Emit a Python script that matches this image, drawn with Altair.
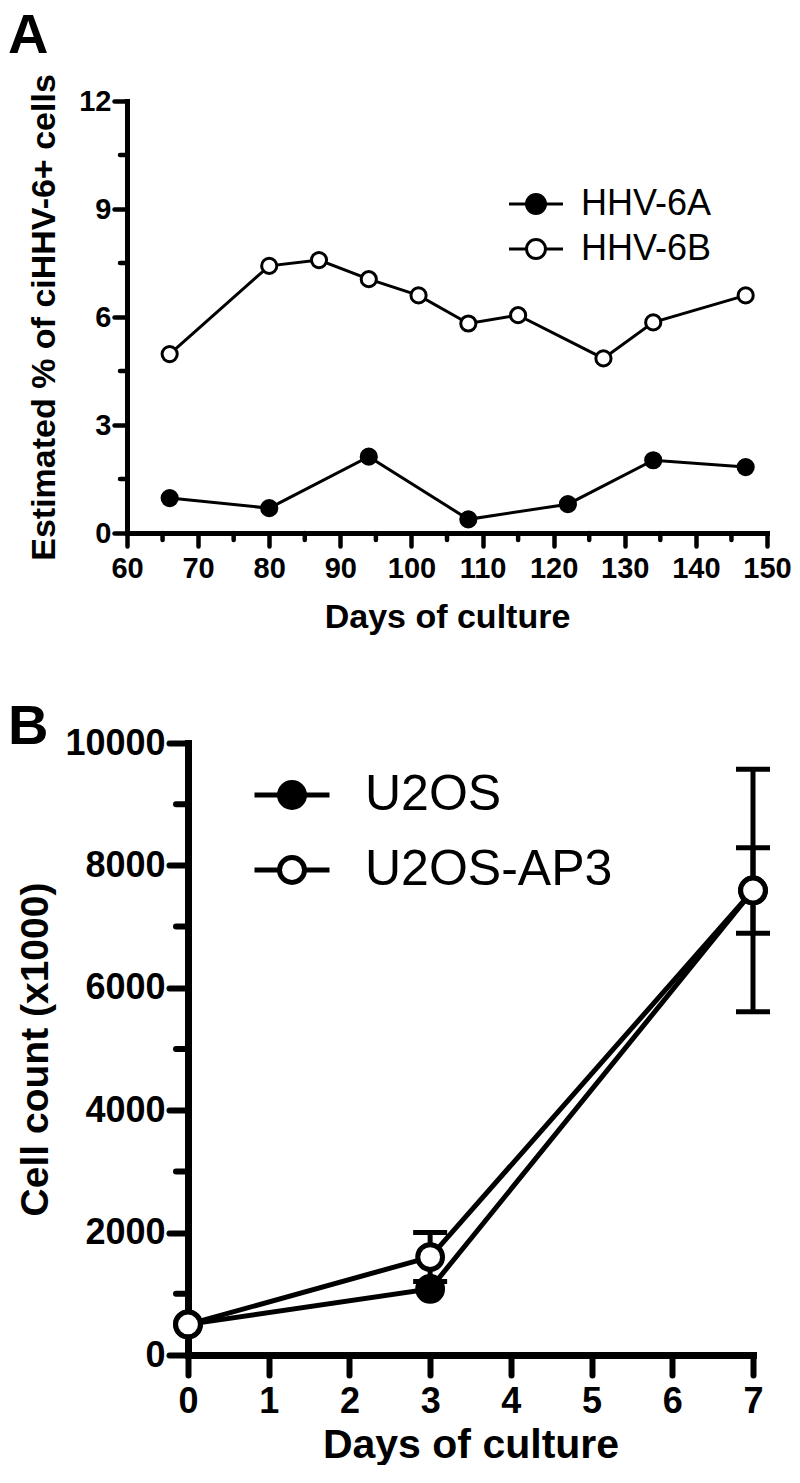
import altair as alt
import pandas as pd

FONT = "Liberation Sans"

# ---------------- Panel A data ----------------
a_series = ["HHV-6A", "HHV-6B"]
a_days_6a = [66, 80, 94, 108, 122, 134, 147]
a_vals_6a = [0.97, 0.69, 2.12, 0.38, 0.80, 2.02, 1.83]
a_days_6b = [66, 80, 87, 94, 101, 108, 115, 127, 134, 147]
a_vals_6b = [4.97, 7.42, 7.58, 7.05, 6.60, 5.82, 6.05, 4.85, 5.85, 6.60]
a_major_x = [60, 70, 80, 90, 100, 110, 120, 130, 140, 150]
a_minor_x = [65, 75, 85, 95, 105, 115, 125, 135, 145]
a_major_y = [0, 3, 6, 9, 12]
a_minor_y = [1.5, 4.5, 7.5, 10.5]

# ---------------- Panel B data ----------------
b_series = ["U2OS", "U2OS-AP3"]
b_days = [0, 3, 7]
b_u2os = [500, 1080, 7590]
b_u2os_sd = [0, 0, 700]
b_ap3 = [500, 1600, 7590]
b_ap3_sd = [0, 400, 1980]
b_major_x = [0, 1, 2, 3, 4, 5, 6, 7]
b_major_y = [0, 2000, 4000, 6000, 8000, 10000]
b_minor_y = [1000, 3000, 5000, 7000, 9000]

# ---------------- tables ----------------
dfA = pd.DataFrame({
    "day": a_days_6a + a_days_6b,
    "val": a_vals_6a + a_vals_6b,
    "series": [a_series[0]] * len(a_days_6a) + [a_series[1]] * len(a_days_6b),
})
dfB = pd.DataFrame({
    "day": b_days + b_days,
    "val": b_u2os + b_ap3,
    "sd": b_u2os_sd + b_ap3_sd,
    "series": [b_series[0]] * len(b_days) + [b_series[1]] * len(b_days),
})
dfB["lo"] = dfB["val"] - dfB["sd"]
dfB["hi"] = dfB["val"] + dfB["sd"]
dfBerr = dfB[dfB["sd"] > 0]
dfBcaps = pd.DataFrame({
    "day": list(dfBerr["day"]) * 2,
    "val": list(dfBerr["lo"]) + list(dfBerr["hi"]),
})


def make_axis(values, tick_size, tick_w, dom_w, lab_size, lab_pad, title, title_size, title_pad):
    return alt.Axis(
        values=values, format="d", tickSize=tick_size, tickWidth=tick_w, tickColor="black",
        tickCap="round", domainWidth=dom_w, domainColor="black", domainCap="square",
        labelFont=FONT, labelFontSize=lab_size, labelFontWeight="bold", labelColor="black",
        labelPadding=lab_pad, labelFlush=False, labelOverlap=False,
        title=title, titleFont=FONT, titleFontSize=title_size, titleFontWeight="bold",
        titleColor="black", titlePadding=title_pad, grid=False,
    )


# ---------------- Panel A ----------------
WA, HA = 640, 432
axXA = make_axis(a_major_x, 13, 4.5, 5, 29, 8, "Days of culture", 34, 17)
axYA = make_axis(a_major_y, 13, 4.5, 5, 29, 3, "Estimated % of ciHHV-6+ cells", 34, 17)
scXA = alt.Scale(domain=[60, 150], nice=False, zero=False)
scYA = alt.Scale(domain=[0, 12], nice=False)
xA = alt.X("day:Q", scale=scXA, axis=axXA)
yA = alt.Y("val:Q", scale=scYA, axis=axYA)

pathA = "M-2.84,0H-1A1,1,0,1,1,1,0A1,1,0,1,1,-1,0M1,0H2.84"
legA = alt.Legend(title=None, orient="none", legendX=391, legendY=85, symbolType=pathA,
                  symbolSize=361, symbolStrokeColor="black", symbolStrokeWidth=3, symbolOpacity=1,
                  labelFont=FONT, labelFontSize=36, labelFontWeight="normal", labelColor="black",
                  labelOffset=27, labelLimit=400, rowPadding=9, padding=0)

baseA = alt.Chart(dfA)
linesA = baseA.mark_line(color="black", strokeWidth=3).encode(x=xA, y=yA, detail="series:N")
pointsA = baseA.mark_point(filled=True, shape="circle", size=230, stroke="black",
                           strokeWidth=3, opacity=1).encode(
    x=xA, y=yA,
    fill=alt.Fill("series:N", scale=alt.Scale(domain=a_series, range=["black", "white"]), legend=legA),
)
minorXA = alt.Chart(pd.DataFrame({"day": a_minor_x})).mark_rule(
    color="black", strokeWidth=4.5, strokeCap="round").encode(
    x=xA, y=alt.value(HA), y2=alt.value(HA + 7))
minorYA = alt.Chart(pd.DataFrame({"val": a_minor_y})).mark_rule(
    color="black", strokeWidth=4.5, strokeCap="round").encode(
    y=yA, x=alt.value(0), x2=alt.value(-7))
letterA = alt.Chart(pd.DataFrame({"t": ["A"]})).mark_text(
    align="left", baseline="alphabetic", font=FONT, fontSize=56, fontWeight="bold", color="black").encode(
    text="t:N", x=alt.value(-119), y=alt.value(-48))

chartA = alt.layer(linesA, minorXA, minorYA, pointsA, letterA).properties(width=WA, height=HA)

# ---------------- Panel B ----------------
WB, HB = 565, 612
axXB = make_axis(b_major_x, 20, 6, 7, 36, 9, "Days of culture", 41, 6)
axYB = make_axis(b_major_y, 19, 6, 7, 36, 4, "Cell count (x1000)", 39, 9)
scXB = alt.Scale(domain=[0, 7], nice=False, zero=False)
scYB = alt.Scale(domain=[0, 10000], nice=False)
xB = alt.X("day:Q", scale=scXB, axis=axXB)
yB = alt.Y("val:Q", scale=scYB, axis=axYB)

pathB = "M-3,0H-1A1,1,0,1,1,1,0A1,1,0,1,1,-1,0M1,0H3"
legB = alt.Legend(title=None, orient="none", legendX=140, legendY=27, symbolType=pathB,
                  symbolSize=625, symbolStrokeColor="black", symbolStrokeWidth=5, symbolOpacity=1,
                  labelFont=FONT, labelFontSize=50, labelFontWeight="normal", labelColor="black",
                  labelOffset=48, labelLimit=500, rowPadding=25, padding=0)

baseB = alt.Chart(dfB)
linesB = baseB.mark_line(color="black", strokeWidth=5).encode(x=xB, y=yB, detail="series:N")
errB = alt.Chart(dfBerr).mark_rule(color="black", strokeWidth=5).encode(
    x=xB, y=alt.Y("lo:Q", scale=scYB, axis=axYB), y2="hi:Q")
capsB = alt.Chart(dfBcaps).mark_tick(color="black", orient="horizontal", size=34, thickness=5,
                                     opacity=1).encode(x=xB, y=yB)
pointsB = baseB.mark_point(filled=True, shape="circle", size=615, stroke="black",
                           strokeWidth=5, opacity=1).encode(
    x=xB, y=yB,
    fill=alt.Fill("series:N", scale=alt.Scale(domain=b_series, range=["black", "white"]), legend=legB),
)
minorYB = alt.Chart(pd.DataFrame({"val": b_minor_y})).mark_rule(
    color="black", strokeWidth=6, strokeCap="round").encode(
    y=yB, x=alt.value(0), x2=alt.value(-12))
letterB = alt.Chart(pd.DataFrame({"t": ["B"]})).mark_text(
    align="left", baseline="alphabetic", font=FONT, fontSize=56, fontWeight="bold", color="black").encode(
    text="t:N", x=alt.value(-180), y=alt.value(1))

chartB = alt.layer(linesB, errB, capsB, minorYB, pointsB, letterB).properties(width=WB, height=HB)

spacer = alt.Chart(pd.DataFrame({"a": [0]})).mark_point(opacity=0).encode(
    x=alt.value(0), y=alt.value(0)).properties(width=61, height=HB)

rowB = alt.hconcat(spacer, chartB, spacing=0, bounds="flush")

chart = alt.vconcat(chartA, rowB, spacing=210, bounds="flush").resolve_scale(
    fill="independent").resolve_legend(fill="independent").properties(
    padding={"left": 0, "top": 0, "right": 0, "bottom": 0}
).configure(font=FONT, background="white").configure_view(stroke=None)

chart.save("out.html", embed_options={"renderer": "svg", "actions": False})
